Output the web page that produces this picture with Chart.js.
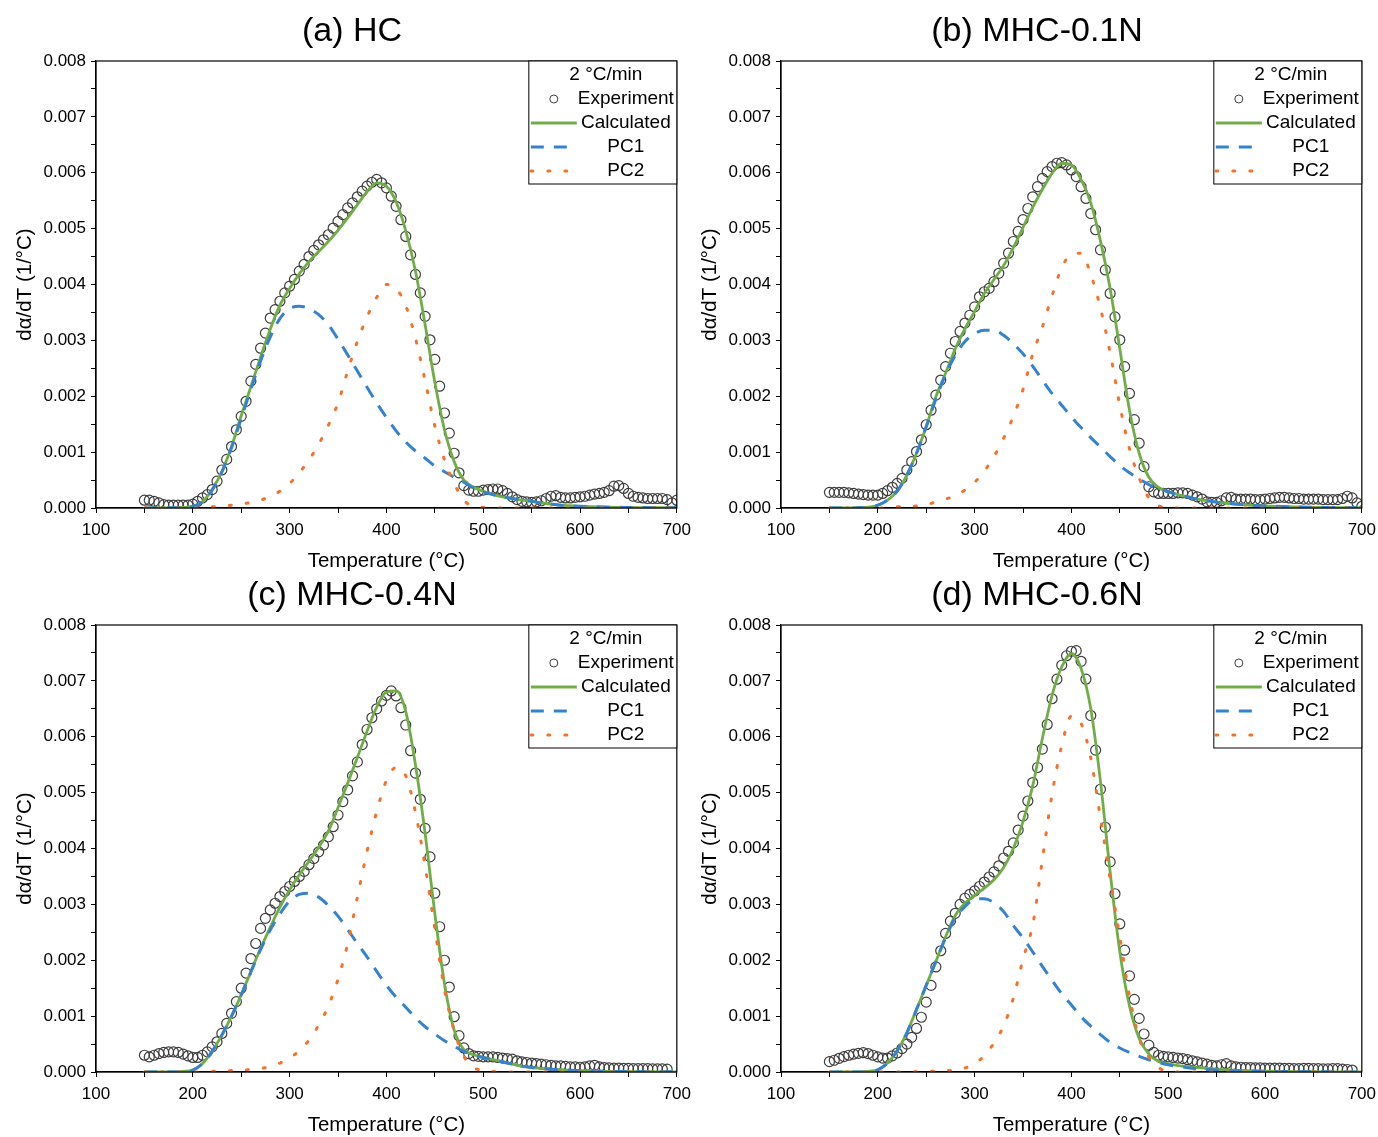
<!DOCTYPE html>
<html>
<head>
<meta charset="utf-8">
<title>dα/dT deconvolution</title>
<script src="https://cdn.jsdelivr.net/npm/chart.js@4.4.1/dist/chart.umd.min.js"></script>
<style>
  html, body { margin: 0; padding: 0; background: #fff; overflow: hidden; }
  body { width: 1378px; height: 1137px; position: relative; }
  canvas { position: absolute; }
</style>
</head>
<body>
<canvas id="chartA" width="696" height="575" style="left:2px;top:0px"></canvas>
<canvas id="chartB" width="696" height="575" style="left:687px;top:0px"></canvas>
<canvas id="chartC" width="696" height="575" style="left:2px;top:564px"></canvas>
<canvas id="chartD" width="696" height="575" style="left:687px;top:564px"></canvas>
<script>
"use strict";

//Data (dα/dT values in units of 1e-4 1/°C)
const expTemp = [150,155,160,165,170,175,180,185,190,195,
  200,205,210,215,220,225,230,235,240,245,
  250,255,260,265,270,275,280,285,290,295,
  300,305,310,315,320,325,330,335,340,345,
  350,355,360,365,370,375,380,385,390,395,
  400,405,410,415,420,425,430,435,440,445,
  450,455,460,465,470,475,480,485,490,495,
  500,505,510,515,520,525,530,535,540,545,
  550,555,560,565,570,575,580,585,590,595,
  600,605,610,615,620,625,630,635,640,645,
  650,655,660,665,670,675,680,685,690,695,700];

const fitTemp = [150,160,170,180,190, 200,210,220,230,240, 250,260,270,280,290,
  300,310,320,330,340, 350,360,370,380,390, 400,410,420,430,440,
  450,460,470,480,490, 500,510,520,530,540, 550,560,570,580,590,
  600,610,620,630,640, 650,660,670,680,690, 700];

const xTickLabels = ["100", "200", "300", "400", "500", "600", "700"];
const yTickLabels = ["0.000", "0.001", "0.002", "0.003", "0.004", "0.005", "0.006", "0.007", "0.008"];

//(a) HC
const expA = [1.4,1.4,1.2,0.9,0.6,0.5,0.5,0.5,0.5,0.5,
  0.7,1.2,1.8,2.4,3.3,4.8,6.8,8.7,11.0,14.0,
  16.4,19.1,22.7,25.7,28.6,31.3,34.0,35.5,37.0,38.5,
  39.7,40.9,42.4,43.6,45.0,46.1,47.1,48.0,48.9,50.1,
  51.3,52.5,53.7,54.6,55.7,56.7,57.6,58.3,58.8,58.2,
  57.3,55.8,54.0,51.6,48.6,45.3,41.8,38.5,34.3,30.1,
  26.6,21.8,17.0,13.4,9.8,6.3,4.0,3.2,3.0,3.0,
  3.2,3.3,3.4,3.4,3.1,2.6,2.0,1.5,1.2,1.1,
  1.0,1.1,1.3,1.7,2.1,2.2,1.9,1.8,1.8,1.9,
  2.0,2.1,2.3,2.5,2.6,2.8,3.1,3.9,4.0,3.5,
  2.6,2.1,1.9,1.8,1.7,1.7,1.7,1.7,1.5,0.9,1.4];
const calcA = [0,0,0,0.05,0.1, 0.3,1.1,3.3,6.5,11.0, 16.5,21.7,27.0,32.0,36.3,
  39.3,41.9,44.1,45.9,47.7, 49.7,51.9,54.3,56.6,58.2, 57.6,54.8,49.6,42.4,32.8,
  22.5,14.0,8.3,5.0,3.7, 3.0,2.4,2.0,1.7,1.4, 1.2,0.9,0.7,0.5,0.4,
  0.3,0.25,0.2,0.15,0.12, 0.1,0.08,0.06,0.05,0.04, 0.03];
const pc1A = [0,0,0,0.05,0.1, 0.3,1.1,3.2,6.4,10.8, 16.0,21.3,26.3,30.6,33.9,
  35.7,36.1,35.7,34.6,32.8, 30.2,27.4,24.5,21.6,18.8, 16.2,13.8,11.8,10.2,8.9,
  7.5,6.5,5.5,4.6,3.6, 2.9,2.4,2.0,1.7,1.4, 1.2,0.9,0.7,0.5,0.4,
  0.3,0.25,0.2,0.15,0.12, 0.1,0.08,0.06,0.05,0.04, 0.03];
const pc2A = [0,0,0,0,0, 0,0,0.2,0.35,0.5, 0.7,1.0,1.4,2.1,3.0,
  4.4,6.3,8.6,11.4,14.8, 18.8,24.5,29.8,34.2,37.7, 40.0,39.3,36.2,30.4,22.8,
  14.7,8.6,4.4,1.4,0.3, 0.1,0,0,0,0, 0,0,0,0,0,
  0,0,0,0,0, 0,0,0,0,0, 0];

//(b) MHC-0.1N
const expB = [2.8,2.8,2.8,2.8,2.7,2.6,2.5,2.4,2.3,2.3,
  2.3,2.6,3.1,3.7,4.4,5.3,6.8,8.3,10.1,12.2,
  14.9,17.5,20.2,22.9,25.3,27.7,29.8,31.6,33.1,34.5,
  36.0,37.8,38.7,39.3,40.5,42.0,43.8,45.6,47.7,49.5,
  51.6,53.6,55.7,57.5,59.0,60.2,61.1,61.7,61.8,61.4,
  60.5,59.3,57.5,55.4,52.7,49.8,46.2,42.6,38.4,34.2,
  30.1,25.3,20.5,15.8,11.6,7.4,3.8,2.9,2.6,2.6,
  2.6,2.6,2.7,2.7,2.6,2.3,2.0,1.6,1.1,1.0,
  1.0,1.3,1.8,1.9,1.6,1.6,1.6,1.6,1.5,1.5,
  1.6,1.7,1.8,1.9,1.9,1.8,1.7,1.7,1.6,1.6,
  1.6,1.6,1.5,1.5,1.5,1.5,1.7,2.1,1.8,0.9,0.3];
const calcB = [0,0,0,0.05,0.15, 0.5,1.4,3.0,5.9,9.8, 14.6,19.9,24.1,28.5,32.1,
  35.2,38.4,40.9,43.4,46.6, 50.2,53.8,57.0,59.9,61.7, 61.4,58.8,54.6,47.8,39.3,
  28.5,17.5,9.8,5.5,3.7, 2.9,2.4,2.0,1.6,1.3, 1.05,0.85,0.7,0.55,0.45,
  0.35,0.3,0.25,0.2,0.15, 0.12,0.1,0.08,0.06,0.05, 0.04];
const pc1B = [0,0,0,0.05,0.15, 0.5,1.4,3.0,5.9,9.8, 14.5,19.5,23.9,27.3,29.8,
  31.2,31.8,31.8,30.9,29.4, 27.6,25.4,22.9,20.5,18.4, 16.3,14.4,12.6,10.9,9.2,
  7.6,6.3,5.2,4.2,3.5, 2.9,2.4,2.0,1.6,1.3, 1.05,0.85,0.7,0.55,0.45,
  0.35,0.3,0.25,0.2,0.15, 0.12,0.1,0.08,0.06,0.05, 0.04];
const pc2B = [0,0,0,0,0, 0,0,0.2,0.3,0.35, 0.6,1.1,1.6,2.2,3.2,
  4.6,6.6,9.2,12.5,16.4, 21.2,27.5,32.4,38.0,43.0, 45.4,45.6,41.8,35.8,27.8,
  18.4,10.6,5.4,1.8,0.4, 0.1,0,0,0,0, 0,0,0,0,0,
  0,0,0,0,0, 0,0,0,0,0, 0];

//(c) MHC-0.4N
const expC = [3.0,2.7,3.0,3.3,3.5,3.6,3.6,3.5,3.2,2.9,
  2.6,2.6,3.0,3.6,4.5,5.4,6.9,8.7,10.5,12.6,
  15.0,17.7,20.3,23.0,25.7,27.5,29.0,30.2,31.4,32.3,
  33.2,34.1,35.0,35.9,37.1,38.2,39.4,40.6,42.1,43.9,
  46.0,48.4,50.5,53.0,55.5,58.6,61.3,63.4,65.0,66.4,
  67.4,68.2,67.3,65.2,62.1,57.5,53.5,48.8,43.6,38.5,
  32.0,26.0,20.0,15.2,9.9,6.5,4.3,3.3,2.9,2.8,
  2.7,2.7,2.7,2.6,2.5,2.4,2.3,2.0,1.8,1.7,
  1.6,1.5,1.4,1.3,1.2,1.1,1.1,1.0,0.9,0.9,
  0.85,0.9,1.1,1.2,0.9,0.8,0.75,0.7,0.7,0.65,
  0.65,0.6,0.6,0.6,0.6,0.55,0.55,0.55,0.5];
const calcC = [0,0,0,0,0.1, 0.35,1.5,3.7,6.6,10.0, 13.8,18.0,22.1,25.9,29.5,
  32.6,35.3,37.7,40.2,43.1, 47.3,51.7,56.3,61.0,65.3, 68.0,68.2,64.5,55.0,42.7,
  28.4,15.8,7.5,4.0,3.1, 2.6,2.2,1.85,1.4,1.05, 0.8,0.65,0.5,0.4,0.3,
  0.25,0.2,0.15,0.12,0.1, 0.08,0.06,0.05,0.04,0.03, 0.02];
const pc1C = [0,0,0,0,0.1, 0.35,1.5,3.7,6.6,10.0, 13.8,17.9,21.9,25.4,28.3,
  30.6,31.8,32.0,31.3,29.8, 27.9,25.5,23.0,20.6,18.0, 15.5,13.4,11.6,9.7,8.1,
  6.8,5.6,4.6,3.7,3.0, 2.6,2.2,1.8,1.4,1.05, 0.8,0.65,0.5,0.4,0.3,
  0.25,0.2,0.15,0.12,0.1, 0.08,0.06,0.05,0.04,0.03, 0.02];
const pc2C = [0,0,0,0,0, 0,0,0.1,0.2,0.25, 0.3,0.45,0.65,0.95,1.6,
  2.5,3.8,5.7,8.4,11.8, 16.6,23.0,31.3,39.5,46.6, 52.2,54.5,53.0,46.5,36.8,
  25.7,14.8,7.4,2.8,0.8, 0.3,0.1,0,0,0, 0,0,0,0,0,
  0,0,0,0,0, 0,0,0,0,0, 0];

//(d) MHC-0.6N
const expD = [1.85,2.1,2.45,2.75,3.0,3.2,3.35,3.45,3.3,3.0,
  2.7,2.5,2.5,2.9,3.4,4.2,5.0,6.2,7.8,9.8,
  12.5,15.5,18.8,21.7,24.8,27.0,28.4,30.0,31.1,31.8,
  32.4,33.2,34.0,34.9,35.8,36.9,38.3,39.5,41.0,43.3,
  45.8,48.5,51.8,54.5,57.8,62.2,66.8,70.3,72.8,74.5,
  75.3,75.4,73.5,70.3,63.8,57.6,50.6,43.8,37.6,31.9,
  26.5,21.8,17.2,13.0,9.6,6.8,4.8,3.5,3.0,2.8,
  2.7,2.6,2.5,2.4,2.2,2.0,1.8,1.6,1.4,1.2,
  1.1,1.3,1.5,1.1,0.9,0.85,0.8,0.8,0.75,0.75,
  0.7,0.7,0.7,0.7,0.65,0.65,0.6,0.6,0.65,0.65,
  0.6,0.6,0.55,0.55,0.6,0.6,0.5,0.45,0.35];
const calcD = [0,0,0,0,0.1, 0.4,1.6,3.8,7.0,11.2, 15.5,19.8,24.2,28.0,30.2,
  31.6,32.9,34.4,36.6,40.0, 44.8,51.2,59.7,67.4,72.5, 74.9,72.2,65.0,52.0,35.8,
  21.5,11.8,6.0,3.2,1.9, 1.45,1.15,0.95,0.8,0.65, 0.5,0.4,0.3,0.25,0.2,
  0.15,0.12,0.1,0.08,0.06, 0.05,0.04,0.03,0.03,0.02, 0.02];
const pc1D = [0,0,0,0,0.1, 0.4,1.6,3.8,7.0,11.2, 15.5,19.8,24.0,27.6,29.6,
  30.9,31.0,30.3,28.7,26.2, 24.0,21.5,18.9,16.4,14.0, 12.0,9.9,8.2,6.7,5.3,
  4.3,3.5,2.8,2.2,1.7, 1.3,1.0,0.78,0.6,0.45, 0.35,0.28,0.22,0.18,0.15,
  0.12,0.1,0.08,0.06,0.05, 0.04,0.03,0.03,0.02,0.02, 0.02];
const pc2D = [0,0,0,0,0, 0,0,0,0,0.05, 0.1,0.15,0.25,0.35,0.7,
  1.5,2.9,5.2,8.3,13.2, 20.2,26.3,38.0,49.7,58.4, 63.7,62.4,56.2,45.5,34.6,
  24.2,13.6,6.0,2.7,0.8, 0.1,0,0,0,0, 0,0,0,0,0,
  0,0,0,0,0, 0,0,0,0,0, 0];

const panels = [
  { canvas: "chartA", title: "(a) HC", exp: expA, calc: calcA, pc1: pc1A, pc2: pc2A },
  { canvas: "chartB", title: "(b) MHC-0.1N", exp: expB, calc: calcB, pc1: pc1B, pc2: pc2B },
  { canvas: "chartC", title: "(c) MHC-0.4N", exp: expC, calc: calcC, pc1: pc1C, pc2: pc2C },
  { canvas: "chartD", title: "(d) MHC-0.6N", exp: expD, calc: calcD, pc1: pc1D, pc2: pc2D },
];

const FONT = "'Liberation Sans', Arial, sans-serif";
const GREEN = "#70ad47";
const BLUE = "#3582cf";
const ORANGE = "#f3722c";
const GREY = "#3d3d3d";

function toPoints(xs, ys) {
  return ys.map((y, i) => ({ x: xs[i], y: y }));
}

//frame around the plot + boxed legend in the top right corner
const boxLegend = {
  id: "boxLegend",
  afterDraw(chart, args, opts) {
    const ctx = chart.ctx;
    const a = chart.chartArea;
    ctx.save();
    ctx.strokeStyle = "#000";
    ctx.lineWidth = 1.2;
    ctx.strokeRect(a.left, a.top, a.right - a.left, a.bottom - a.top);

    const w = 148, h = 123;
    const left = a.right - w, top = a.top;
    ctx.fillStyle = "#fff";
    ctx.fillRect(left, top, w, h);
    ctx.lineWidth = 1;
    ctx.strokeRect(left, top, w, h);

    ctx.fillStyle = "#000";
    ctx.font = "19px " + FONT;
    ctx.textAlign = "center";
    ctx.textBaseline = "middle";
    ctx.fillText(opts.title, left + w / 2 + 3, top + 14);

    opts.order.forEach(function (label, i) {
      const ds = chart.data.datasets.find((d) => d.label === label);
      const y = top + 38 + i * 24;
      ctx.save();
      if (ds.showLine === false) {
        ctx.beginPath();
        ctx.arc(left + 25, y, 4, 0, Math.PI * 2);
        ctx.strokeStyle = ds.pointBorderColor;
        ctx.lineWidth = 1;
        ctx.stroke();
      } else {
        ctx.beginPath();
        ctx.setLineDash(ds.borderDash || []);
        ctx.lineCap = ds.borderCapStyle || "butt";
        ctx.strokeStyle = ds.borderColor;
        ctx.lineWidth = ds.borderWidth;
        ctx.moveTo(left + 2, y);
        ctx.lineTo(left + 48, y);
        ctx.stroke();
      }
      ctx.restore();
      ctx.fillText(label, left + 97, y);
    });
    ctx.restore();
  },
};

function makeChart(p) {
  return new Chart(document.getElementById(p.canvas), {
    type: "line",
    data: {
      datasets: [
        {
          label: "PC2",
          data: toPoints(fitTemp, p.pc2),
          borderColor: ORANGE,
          borderWidth: 3,
          borderDash: [2, 15],
          borderCapStyle: "round",
          pointRadius: 0,
          cubicInterpolationMode: "monotone",
          order: 0,
        },
        {
          label: "PC1",
          data: toPoints(fitTemp, p.pc1),
          borderColor: BLUE,
          borderWidth: 3,
          borderDash: [13, 10],
          pointRadius: 0,
          cubicInterpolationMode: "monotone",
          order: 1,
        },
        {
          label: "Calculated",
          data: toPoints(fitTemp, p.calc),
          borderColor: GREEN,
          borderWidth: 2.8,
          pointRadius: 0,
          cubicInterpolationMode: "monotone",
          order: 2,
        },
        {
          label: "Experiment",
          data: toPoints(expTemp, p.exp),
          showLine: false,
          pointRadius: 5,
          pointBorderWidth: 1.2,
          pointBorderColor: GREY,
          pointBackgroundColor: "rgba(0,0,0,0)",
          order: 3,
        },
      ],
    },
    options: {
      responsive: false,
      animation: false,
      events: [],
      layout: { padding: { left: 25, right: 21, top: 0, bottom: 0 } },
      plugins: {
        legend: { display: false },
        tooltip: { enabled: false },
        title: {
          display: true,
          text: p.title,
          color: "#000",
          font: { family: FONT, size: 34, weight: "normal", lineHeight: 1.2 },
          padding: { top: 11.6, bottom: 8.6 },
        },
        boxLegend: { title: "2 °C/min", order: ["Experiment", "Calculated", "PC1", "PC2"] },
      },
      scales: {
        x: {
          type: "linear",
          min: 100,
          max: 700,
          afterFit: function (scale) { scale.height = 67; },
          ticks: {
            stepSize: 50,
            autoSkip: false,
            maxRotation: 0,
            padding: 7,
            color: "#000",
            font: { family: FONT, size: 17 },
            callback: function (value) {
              const i = (value - 100) / 100;
              return Number.isInteger(i) ? xTickLabels[i] : "";
            },
          },
          grid: { drawOnChartArea: false, drawTicks: true, tickLength: 5, color: "#000" },
          border: { display: true, color: "#000", width: 1.2 },
          title: {
            display: true,
            text: "Temperature (°C)",
            color: "#000",
            font: { family: FONT, size: 20.5, lineHeight: 1.2 },
            padding: { top: 0, bottom: 1 },
          },
        },
        y: {
          min: 0,
          max: 80,
          afterFit: function (scale) { scale.width = 69; },
          ticks: {
            stepSize: 5,
            autoSkip: false,
            padding: 5,
            color: "#000",
            font: { family: FONT, size: 17 },
            callback: function (value) {
              const i = value / 10;
              return Number.isInteger(i) ? yTickLabels[i] : "";
            },
          },
          grid: { drawOnChartArea: false, drawTicks: true, tickLength: 5, color: "#000" },
          border: { display: true, color: "#000", width: 1.2 },
          title: {
            display: true,
            text: "dα/dT (1/°C)",
            color: "#000",
            font: { family: FONT, size: 20.5, lineHeight: 1.2 },
            padding: { top: -14.3, bottom: 0 },
          },
        },
      },
    },
    plugins: [boxLegend],
  });
}

//Charts
panels.forEach(makeChart);
</script>
</body>
</html>
